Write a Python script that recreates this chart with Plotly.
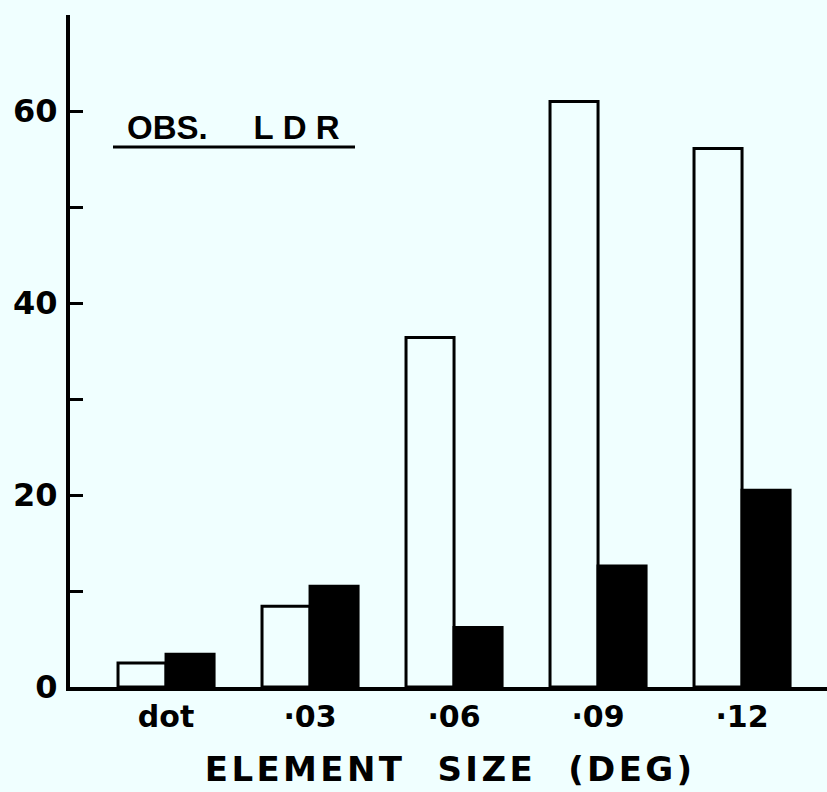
import plotly.graph_objects as go

categories = ["dot", "·03", "·06", "·09", "·12"]
open_values = [2.5, 8.4, 36.4, 61.0, 56.1]
filled_values = [3.4, 10.5, 6.2, 12.6, 20.5]
y_tick_vals = [0, 10, 20, 30, 40, 50, 60, 70]
y_tick_text = ["0", "", "20", "", "40", "", "60", ""]

BG = "#f0ffff"
FONT = "DejaVu Sans, Arial, sans-serif"
FONT2 = "Liberation Sans, Arial, sans-serif"
H = "\u200a"
NB = "\u00a0"

def spaced(words):
    return (NB * 3).join(H.join(list(w)) for w in words)

x_title = spaced(["ELEMENT", "SIZE", "(DEG)"])
legend_text = "OBS." + NB * 5 + NB.join(["L", "D", "R"])

fig = go.Figure()
fig.add_trace(go.Bar(x=categories, y=open_values, marker=dict(color=BG, line=dict(color="black", width=3)), name="open"))
fig.add_trace(go.Bar(x=categories, y=filled_values, marker=dict(color="black", line=dict(color="black", width=3)), name="filled"))

fig.update_layout(
    width=827, height=792,
    margin=dict(l=70, r=0, t=15, b=105),
    paper_bgcolor=BG, plot_bgcolor=BG,
    barmode="group", bargap=0.333, bargroupgap=0,
    showlegend=False,
    font=dict(family=FONT, color="black"),
    xaxis=dict(
        type="category", range=[-0.667, 4.59],
        showline=True, linecolor="black", linewidth=4,
        ticks="", showgrid=False, zeroline=False,
        tickfont=dict(size=30, family=FONT, weight="bold"),
        ticklabelstandoff=0,
        title=dict(text=x_title, font=dict(size=34, family=FONT, weight="bold"), standoff=25),
    ),
    yaxis=dict(
        range=[0, 70],
        showline=True, linecolor="black", linewidth=4,
        ticks="inside", ticklen=13, tickwidth=3, tickcolor="black",
        tickvals=y_tick_vals, ticktext=y_tick_text,
        tickfont=dict(size=32, family=FONT, weight="bold"),
        ticklabelstandoff=2,
        showgrid=False, zeroline=False,
    ),
)

fig.add_annotation(
    xref="paper", yref="paper", x=(125 - 70) / 757, y=(687 - 128) / 672,
    xanchor="left", yanchor="middle", showarrow=False,
    text=legend_text, font=dict(size=33, family=FONT2, weight="bold"),
)
fig.add_shape(type="line", xref="paper", yref="paper",
              x0=(113 - 70) / 757, x1=(355 - 70) / 757,
              y0=(687 - 147) / 672, y1=(687 - 147) / 672,
              line=dict(color="black", width=3))
fig.write_html("out.html")
